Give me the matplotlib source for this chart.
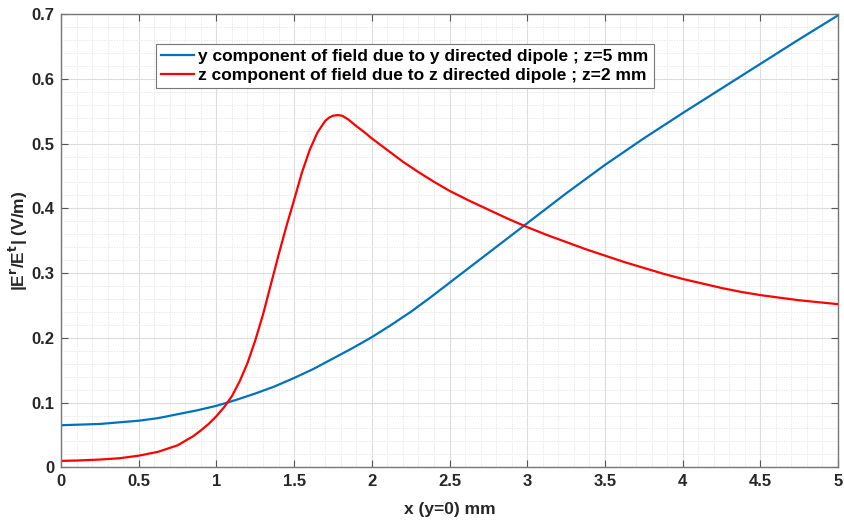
import numpy as np
import matplotlib
matplotlib.use('Agg')
import matplotlib.pyplot as plt
from matplotlib.ticker import MultipleLocator

plt.rcParams['font.family'] = ['Liberation Sans', 'DejaVu Sans']

# y component, y directed dipole, z=5 mm
x_blue = [0, 0.25, 0.5, 0.625, 0.75, 0.875, 1.0, 1.125, 1.25, 1.375, 1.5, 1.625,
          1.75, 1.875, 2.0, 2.125, 2.25, 2.375, 2.5, 2.75, 3.0, 3.25, 3.5, 3.75,
          4.0, 4.25, 4.5, 4.75, 5.0]
y_blue = [0.065, 0.067, 0.072, 0.076, 0.082, 0.088, 0.095, 0.104, 0.114, 0.125,
          0.138, 0.152, 0.168, 0.184, 0.201, 0.220, 0.240, 0.262, 0.285, 0.331,
          0.377, 0.423, 0.467, 0.508, 0.547, 0.585, 0.623, 0.661, 0.698]

# z component, z directed dipole, z=2 mm
x_red = [0, 0.1, 0.25, 0.375, 0.5, 0.625, 0.75, 0.8, 0.85, 0.9, 0.95, 1.0, 1.05,
         1.1, 1.15, 1.2, 1.25, 1.3, 1.35, 1.4, 1.45, 1.5, 1.55, 1.6, 1.65, 1.7,
         1.725, 1.75, 1.78, 1.81, 1.85, 1.9, 1.95, 2.0, 2.1, 2.2, 2.3, 2.4, 2.5,
         2.625, 2.75, 2.875, 3.0, 3.125, 3.25, 3.375, 3.5, 3.625, 3.75, 3.875,
         4.0, 4.125, 4.25, 4.375, 4.5, 4.625, 4.75, 4.875, 5.0]
y_red = [0.010, 0.0105, 0.012, 0.014, 0.018, 0.024, 0.034, 0.041, 0.048, 0.057,
         0.067, 0.079, 0.093, 0.110, 0.133, 0.161, 0.196, 0.236, 0.282, 0.328,
         0.372, 0.413, 0.455, 0.490, 0.517, 0.535, 0.540, 0.543, 0.544, 0.543,
         0.537, 0.527, 0.518, 0.508, 0.490, 0.472, 0.456, 0.441, 0.427, 0.412,
         0.398, 0.384, 0.371, 0.359, 0.348, 0.337, 0.327, 0.317, 0.308, 0.299,
         0.291, 0.284, 0.277, 0.271, 0.266, 0.262, 0.258, 0.255, 0.252]

lbl_blue = 'y component of field due to y directed dipole ; z=5 mm'
lbl_red = 'z component of field due to z directed dipole ; z=2 mm'
xtick_vals = [0, 0.5, 1, 1.5, 2, 2.5, 3, 3.5, 4, 4.5, 5]
xtick_txt = ['0', '0.5', '1', '1.5', '2', '2.5', '3', '3.5', '4', '4.5', '5']
ytick_vals = [0, 0.1, 0.2, 0.3, 0.4, 0.5, 0.6, 0.7]
ytick_txt = ['0', '0.1', '0.2', '0.3', '0.4', '0.5', '0.6', '0.7']

fig = plt.figure(figsize=(8.44, 5.21), dpi=100)
ax = fig.add_axes([0.0723, 0.103, 0.9206, 0.870])

ax.plot(x_blue, y_blue, color='#0072BD', lw=1.6, label=lbl_blue)
ax.plot(x_red, y_red, color='#FF0000', lw=1.6, label=lbl_red)

ax.set_xlim(0, 5)
ax.set_ylim(0, 0.7)
ax.set_xticks(xtick_vals)
ax.set_xticklabels(xtick_txt)
ax.set_yticks(ytick_vals)
ax.set_yticklabels(ytick_txt)
ax.xaxis.set_minor_locator(MultipleLocator(0.1))
ax.yaxis.set_minor_locator(MultipleLocator(0.02))

ax.grid(which='major', color='#dcdcdc', lw=0.8)
ax.grid(which='minor', color='#e4e4e4', lw=0.6, ls=(0, (1.5, 1.5)))
ax.set_axisbelow(True)

ax.tick_params(which='major', direction='in', top=True, right=True, length=5,
               color='#555555', labelsize=12, labelcolor='#262626', pad=5)
ax.tick_params(which='minor', length=0)
for lab in ax.get_xticklabels() + ax.get_yticklabels():
    lab.set_fontweight('bold')
for s in ax.spines.values():
    s.set_color('#777777')
    s.set_linewidth(1.0)

ax.set_xlabel('x (y=0) mm', fontsize=12.5, fontweight='bold', color='#262626',
              labelpad=9)
ax.set_ylabel(r'|E$^{\bf r}$/E$^{\bf t}$| (V/m)', fontsize=12.5, fontweight='bold',
              color='#262626', labelpad=1)

leg = ax.legend(loc='upper left', bbox_to_anchor=(0.122, 0.934), fancybox=False,
                framealpha=1, edgecolor='#777777', borderpad=0.3, labelspacing=0.2,
                handlelength=1.9, handletextpad=0.25, borderaxespad=0,
                prop={'weight': 'bold', 'size': 12.5})
leg.get_frame().set_linewidth(0.8)

fig.savefig('out.png', dpi=100)
